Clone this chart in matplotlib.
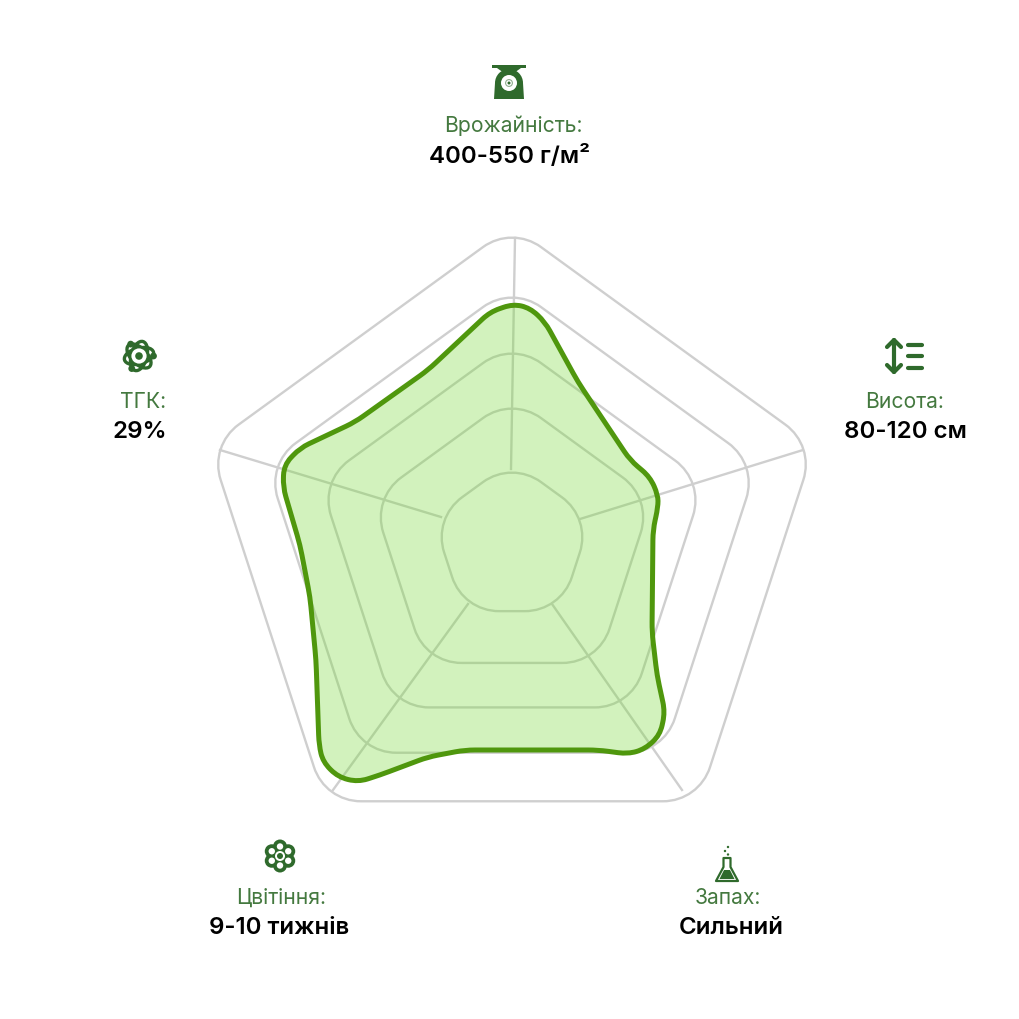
import numpy as np
import matplotlib
matplotlib.use("Agg")
import matplotlib.pyplot as plt
from matplotlib.path import Path
from matplotlib.patches import PathPatch, Circle, Rectangle, Polygon, Ellipse

categories = ["Врожайність:", "Висота:", "Запах:", "Цвітіння:", "ТГК:"]
values = ["400-550 г/м²", "80-120 см", "Сильний", "9-10 тижнів", "29%"]

grid_levels = [83, 147, 202, 258, 318]
spoke_x = [[-1, 3], [68, 291], [40, 170], [-44, -179], [-71, -292]]
spoke_y = [[75, 306], [25, 94], [-60, -246], [-60, -246], [27, 94]]

outline_x = [-22, 1, 18, 33, 66, 118, 138, 146, 146, 141, 140, 145, 153, 148, 133, 116, 86,
             -47, -84, -132, -154, -174, -189, -193, -196, -202, -212, -229, -228, -212, -157, -84]
outline_y = [232, 240, 236, 222, 162, 84, 67, 49, 37, 14, -88, -131, -168, -191, -205, -210, -206,
             -206, -213, -231, -238, -233, -218, -201, -116, -53, -1, 57, 79, 96, 122, 174]

GREEN = "#2f6a2c"
LABEL = "#44793f"
GRID = "#cfcfcf"


def rounded_path(x, y, radius):
    pts = np.column_stack([x, y]).astype(float)
    n = len(pts)
    verts, codes = [], []
    for i in range(n):
        p, prev, nxt = pts[i], pts[i - 1], pts[(i + 1) % n]
        d1, d2 = prev - p, nxt - p
        l1, l2 = np.hypot(*d1), np.hypot(*d2)
        t1, t2 = min(radius, l1 / 2), min(radius, l2 / 2)
        a, b = p + d1 / l1 * t1, p + d2 / l2 * t2
        verts.append(a)
        codes.append(Path.MOVETO if i == 0 else Path.LINETO)
        verts += [p, b]
        codes += [Path.CURVE3, Path.CURVE3]
    verts.append(verts[0])
    codes.append(Path.CLOSEPOLY)
    return Path(verts, codes)


def ring_path(r, tangent=36, k=0.6):
    # pentagon with circular looking corners
    ang = np.radians(90 - 72 * np.arange(5))
    pts = np.column_stack([r * np.cos(ang), r * np.sin(ang)])
    verts, codes = [], []
    for i in range(5):
        p, prev, nxt = pts[i], pts[i - 1], pts[(i + 1) % 5]
        u1, u2 = (prev - p) / np.hypot(*(prev - p)), (nxt - p) / np.hypot(*(nxt - p))
        a, b = p + u1 * tangent, p + u2 * tangent
        verts.append(a)
        codes.append(Path.MOVETO if i == 0 else Path.LINETO)
        verts += [a - u1 * tangent * k, b - u2 * tangent * k, b]
        codes += [Path.CURVE4] * 3
    verts.append(verts[0])
    codes.append(Path.CLOSEPOLY)
    return Path(verts, codes)


def icon_scale(ax, cx, cy):
    c = GREEN
    ax.add_patch(Rectangle((cx - 17, cy + 14), 34, 2.6, color=c, lw=0))
    ax.add_patch(Polygon([[cx - 12, cy + 14], [cx + 12, cy + 14], [cx + 5, cy + 9], [cx - 5, cy + 9]], color=c, lw=0))
    ax.add_patch(Circle((cx, cy - 1), 14, color=c, lw=0))
    ax.add_patch(Polygon([[cx - 14, cy - 1], [cx + 14, cy - 1], [cx + 15, cy - 17], [cx - 15, cy - 17]], color=c, lw=0))
    ax.add_patch(Circle((cx, cy - 1), 8, fc="white", lw=0))
    ax.add_patch(Circle((cx, cy - 1), 3.4, fc="none", ec="#8fae8d", lw=0.8))
    ax.add_patch(Circle((cx, cy - 1), 1.5, fc=c, lw=0))


def icon_height(ax, cx, cy):
    kw = dict(color=GREEN, lw=3, solid_capstyle="round", solid_joinstyle="round")
    ax.plot([cx - 9, cx - 9], [cy - 16, cy + 16], **kw)
    ax.plot([cx - 16, cx - 9, cx - 2], [cy + 9, cy + 16, cy + 9], **kw)
    ax.plot([cx - 16, cx - 9, cx - 2], [cy - 9, cy - 16, cy - 9], **kw)
    for dy in (11.5, 0, -11.5):
        ax.plot([cx + 5, cx + 19], [cy + dy, cy + dy], **kw)


def icon_flask(ax, cx, cy):
    kw = dict(fc="white", ec=GREEN, lw=1.6, joinstyle="round")
    ax.add_patch(Polygon([[cx - 3.5, cy + 9], [cx - 3.5, cy], [cx - 11, cy - 14], [cx + 11, cy - 14], [cx + 3.5, cy], [cx + 3.5, cy + 9]], **kw))
    ax.add_patch(Polygon([[cx - 7.5, cy - 12], [cx - 3, cy - 3], [cx + 3, cy - 3], [cx + 7.5, cy - 12]], color=GREEN, lw=0))
    for dx, dy, r in [(1, 12.5, 1.2), (-2, 16, 1.2), (1, 20, 1.2)]:
        ax.add_patch(Circle((cx + dx, cy + dy), r, color=GREEN, lw=0))


def icon_flower(ax, cx, cy):
    centers = [(cx + 9.5 * np.cos(a), cy + 9.5 * np.sin(a)) for a in np.radians(90 + 60 * np.arange(6))]
    for c in centers:
        ax.add_patch(Circle(c, 7, color=GREEN, lw=0))
    ax.add_patch(Circle((cx, cy), 7, color=GREEN, lw=0))
    for c in centers:
        ax.add_patch(Circle(c, 3.2, color="white", lw=0))
    ax.add_patch(Circle((cx, cy), 5, fc="white", lw=0))
    ax.add_patch(Circle((cx, cy), 3, color=GREEN, lw=0))


def icon_atom(ax, cx, cy):
    for ang in (15, 75, 135):
        ax.add_patch(Ellipse((cx, cy), 30, 16, angle=ang, fc="none", ec=GREEN, lw=2.4))
    ax.add_patch(Circle((cx, cy), 9, fc="white", ec=GREEN, lw=2))
    ax.add_patch(Circle((cx, cy), 3.8, color=GREEN, lw=0))
    for a in np.radians([125, 0, 240]):
        ax.add_patch(Circle((cx + 14.5 * np.cos(a), cy + 14.5 * np.sin(a)), 3.4, color=GREEN, lw=0))


plt.rcParams["font.family"] = ["Inter", "DejaVu Sans"]
fig = plt.figure(figsize=(10.2, 10.2), dpi=100)
ax = fig.add_axes([0, 0, 1, 1])
ax.set_xlim(-512, 508)
ax.set_ylim(-475, 545)
ax.axis("off")

for level in grid_levels:
    ax.add_patch(PathPatch(ring_path(level), fc="none", ec=GRID, lw=1.7, zorder=1))
for sx, sy in zip(spoke_x, spoke_y):
    ax.plot(sx, sy, color=GRID, lw=1.7, zorder=1)

ax.add_patch(PathPatch(rounded_path(outline_x, outline_y, 10), fc=(0.45, 0.85, 0.2, 0.32), ec="none", zorder=2))
ax.add_patch(PathPatch(rounded_path(outline_x, outline_y, 10), fc="none", ec="#4f970d", lw=3.6, zorder=3))

label_pos = [(1, 419), (393, 143), (216, -353), (-231, -353), (-369, 143)]
value_pos = [(-2, 388), (393, 113), (219, -383), (-233, -383), (-372, 113)]
icons = [icon_scale, icon_height, icon_flask, icon_flower, icon_atom]
icon_pos = [(-3, 462), (391, 188), (215, -323), (-232, -312), (-373, 188)]

for cat, val, lp, vp, draw, ip in zip(categories, values, label_pos, value_pos, icons, icon_pos):
    ax.text(lp[0], lp[1], cat, color=LABEL, fontsize=15.2, ha="center", va="center")
    ax.text(vp[0], vp[1], val, color="black", fontsize=17.3, fontweight="semibold", ha="center", va="center")
    draw(ax, ip[0], ip[1])

fig.savefig("out.png", dpi=100, facecolor="white")
